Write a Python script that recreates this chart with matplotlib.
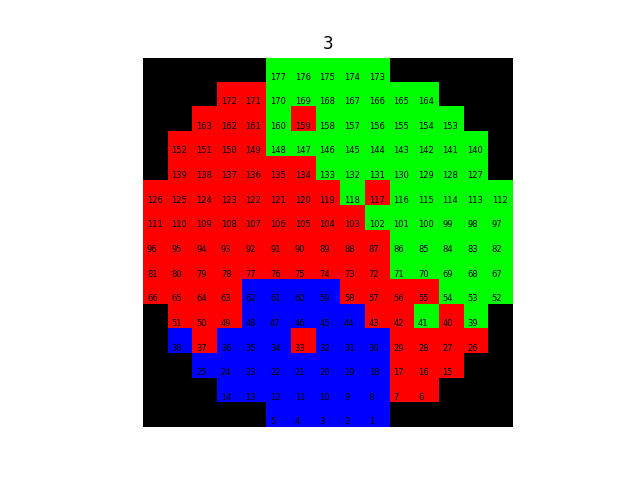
import matplotlib
matplotlib.use('Agg')
import matplotlib.pyplot as plt
from matplotlib.colors import ListedColormap
import numpy as np

# cell states per row, top to bottom: '.' outside, R / G / B = class
grid_rows = [
    ".....GGGGG.....",
    "...RRGGGGGGG...",
    "..RRRGRGGGGGG..",
    ".RRRRGGGGGGGGG.",
    ".RRRRRRGGGGGGG.",
    "RRRRRRRRGRGGGGG",
    "RRRRRRRRRGGGGGG",
    "RRRRRRRRRRGGGGG",
    "RRRRRRRRRRGGGGG",
    "RRRRBBBBRRRRGGG",
    ".RRRBBBBBRRGRG.",
    ".BRBBBRBBBRRRR.",
    "..BBBBBBBBRRR..",
    "...BBBBBBBRR...",
    ".....BBBBB.....",
]
codes = {'.': 0, 'R': 1, 'G': 2, 'B': 3}
cell_colors = ['black', '#ff0000', '#00ff00', '#0000ff']
title = "3"

grid = np.array([[codes[c] for c in row] for row in grid_rows])

fig, ax = plt.subplots(figsize=(6.4, 4.8), dpi=100)
ax.imshow(grid, cmap=ListedColormap(cell_colors), vmin=0, vmax=3)

# cells are numbered from the bottom row up, right to left
n = 1
for i in range(grid.shape[0] - 1, -1, -1):
    for j in range(grid.shape[1] - 1, -1, -1):
        if grid[i, j] != 0:
            ax.text(j - 0.35, i + 0.39, str(n), fontsize=6, color='black',
                    ha='left', va='baseline')
            n += 1

ax.set_title(title)
ax.axis('off')
plt.savefig('out.png', dpi=100)
